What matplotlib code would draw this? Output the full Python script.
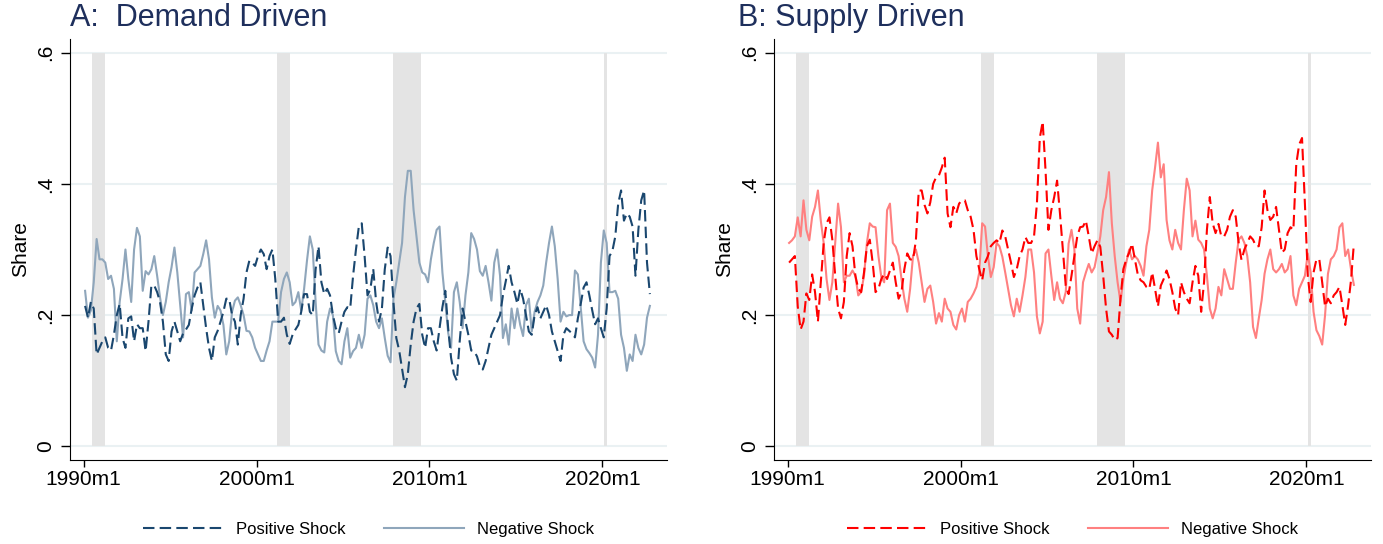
import numpy as np
import matplotlib
matplotlib.use('Agg')
from matplotlib import pyplot as plt

plt.rcParams['font.family'] = ['Liberation Sans', 'DejaVu Sans']

# shares, read every second month starting 1990m2
pos_a = [.214, .196, .22, .21, .14, .15, .16, .166, .15, .146,
         .17, .20, .217, .165, .15, .195, .198, .16, .186, .18,
         .18, .145, .19, .245, .245, .235, .22, .19, .14, .13,
         .175, .19, .175, .16, .172, .178, .185, .21, .23, .242,
         .25, .215, .18, .15, .13, .166, .176, .19, .205, .225,
         .225, .20, .19, .155, .20, .225, .265, .283, .28, .275,
         .29, .30, .293, .27, .29, .30,
         .255, .19, .19, .196, .17, .156, .17, .178, .185, .205,
         .232, .232, .205, .20, .27, .305, .25, .232, .24, .23,
         .20, .18, .172, .19, .205, .212, .21, .26, .30, .335,
         .34, .29, .23, .24, .27, .22, .19, .21, .27, .303,
         .29, .22, .165, .146, .118, .09, .11, .155, .19, .21,
         .217, .17, .15, .18, .18, .16, .146, .18, .212, .237,
         .18, .135, .11, .10, .16, .21, .19, .17,
         .146, .145, .137, .122, .117, .13, .15, .17, .18, .19,
         .20, .23, .252, .275, .25, .235, .217, .24, .225, .20,
         .175, .17, .20, .212, .195, .205, .215, .20, .175, .16,
         .145, .13, .17, .18, .176, .172, .166, .195, .217, .242,
         .25, .23, .207, .186, .195, .18, .166, .21, .29, .298,
         .32, .37, .39, .344, .355, .35, .335, .26, .33, .375,
         .39, .28, .232]

neg_a = [.237, .196, .207, .25, .316, .285, .285, .28, .255, .26,
         .24, .16, .22, .255, .30, .255, .22, .30, .333, .32,
         .237, .267, .262, .27, .29, .26, .227, .20, .22, .25,
         .273, .303, .265, .215, .166, .232, .235, .207, .265, .27,
         .275, .293, .314, .285, .227, .196, .214, .207, .185, .14,
         .16, .205, .222, .227, .215, .20, .176, .175, .166, .15,
         .14, .13, .13, .146, .16, .19,
         .19, .19, .235, .255, .265, .25, .215, .22, .235, .207,
         .24, .283, .32, .30, .22, .155, .146, .143, .19, .21,
         .20, .145, .13, .125, .16, .18, .135, .145, .15, .17,
         .15, .17, .225, .23, .215, .19, .18, .195, .165, .138,
         .128, .225, .25, .28, .31, .38, .42, .42, .36, .32,
         .28, .265, .262, .25, .285, .31, .33, .335, .265, .22,
         .173, .15, .235, .25, .22, .18, .23, .265,
         .325, .316, .30, .267, .26, .275, .25, .222, .28, .30,
         .26, .165, .186, .155, .21, .18, .21, .185, .168, .215,
         .225, .175, .205, .22, .23, .245, .28, .31, .335, .305,
         .255, .19, .205, .198, .20, .20, .268, .262, .212, .16,
         .148, .142, .135, .12, .17, .28, .329, .31, .235, .235,
         .237, .225, .17, .15, .115, .14, .13, .17, .15, .14,
         .155, .196, .214]

pos_b = [.28, .285, .29, .213, .178, .19, .233, .223, .262, .235,
         .19, .25, .31, .34, .349, .315, .26, .21, .195, .22,
         .29, .325, .305, .26, .24, .235, .265, .305, .315, .28,
         .235, .24, .255, .263, .255, .268, .28, .25, .225, .235,
         .27, .294, .285, .284, .314, .39, .39, .368, .355, .372,
         .40, .41, .413, .425, .44, .355, .334, .365, .355, .37,
         .375, .375, .36, .35, .33, .29, .27,
         .253, .28, .29, .305, .31, .314, .31, .329, .32, .30,
         .28, .258, .27, .29, .30, .319, .31, .31, .32, .37,
         .47, .495, .42, .33, .36, .38, .405, .355, .30, .245,
         .232, .26, .29, .32, .334, .335, .344, .32, .294, .305,
         .314, .304, .26, .21, .175, .17, .162, .165, .225, .27,
         .285, .295, .309, .285, .262, .253, .25, .243, .24, .265,
         .24, .213, .245, .255, .268, .255, .235,
         .21, .20, .25, .235, .225, .218, .25, .275, .26, .205,
         .25, .33, .38, .34, .325, .339, .32, .32, .33, .35,
         .36, .35, .31, .284, .30, .31, .32, .315, .305, .305,
         .334, .39, .36, .345, .35, .365, .33, .295, .30, .325,
         .334, .33, .43, .46, .47, .37, .26, .22, .265, .285,
         .285, .25, .213, .225, .218, .23, .235, .243, .215, .185,
         .215, .253, .309]

neg_b = [.31, .314, .32, .349, .32, .375, .33, .314, .35, .365,
         .39, .344, .31, .255, .223, .25, .31, .37, .334, .25,
         .26, .26, .268, .26, .23, .235, .26, .31, .34, .335,
         .334, .29, .258, .25, .36, .37, .31, .304, .29, .255,
         .225, .205, .24, .29, .30, .28, .25, .22, .24, .245,
         .22, .187, .203, .19, .225, .21, .205, .185, .178, .20,
         .21, .19, .22, .225, .233, .243, .265,
         .34, .335, .29, .258, .273, .31, .305, .289, .265, .24,
         .215, .198, .225, .205, .23, .258, .30, .30, .265, .198,
         .172, .19, .294, .30, .26, .223, .25, .225, .218, .235,
         .309, .33, .30, .21, .187, .25, .265, .278, .265, .273,
         .295, .32, .36, .38, .418, .34, .29, .25, .22, .255,
         .28, .30, .285, .29, .285, .275, .26, .305, .33, .39,
         .425, .463, .41, .43, .345, .314, .30,
         .33, .31, .30, .36, .408, .39, .32, .344, .315, .31,
         .30, .26, .21, .195, .21, .243, .23, .27, .255, .24,
         .24, .28, .315, .32, .31, .29, .25, .182, .165, .195,
         .223, .263, .285, .30, .27, .265, .27, .278, .265, .27,
         .29, .23, .215, .24, .25, .26, .294, .265, .205, .177,
         .168, .155, .20, .263, .285, .29, .30, .334, .34, .29,
         .30, .27, .246]

# recession periods (year, month) start / end
rec_start = [(1990, 7), (2001, 3), (2007, 12), (2020, 2)]
rec_end = [(1991, 4), (2001, 12), (2009, 7), (2020, 4)]

xticks = [1990, 2000, 2010, 2020]
xlabels = ['1990m1', '2000m1', '2010m1', '2020m1']
yticks = [0, .2, .4, .6]
ylabels = ['0', '.2', '.4', '.6']


def ym(y, m):
    return y + (m - 1) / 12.0


t = 1990 + (1 + 2 * np.arange(len(pos_a))) / 12.0

fig = plt.figure(figsize=(13.83, 5.44), dpi=100)
ax1 = fig.add_axes([70/1383, 84/544, 597/1383, 421/544])
ax2 = fig.add_axes([774/1383, 84/544, 597/1383, 421/544])


def panel(ax, pos, neg, cpos, cneg, title, tx):
    for s, e in zip(rec_start, rec_end):
        ax.fill_between([ym(*s), ym(*e)], 0, 0.6, color='#e4e4e4', lw=0, zorder=1)
    for yv in yticks:
        ax.axhline(yv, color='#eaf1f3', lw=1.5, zorder=0.5)
    l2, = ax.plot(t, neg, color=cneg, lw=1.5, zorder=3)
    l1, = ax.plot(t, pos, color=cpos, lw=1.5, ls=(0, (5.5, 2.5)), zorder=4)
    ax.set_xlim(1989.21, 2023.74)
    ax.set_ylim(-0.021, 0.621)
    ax.set_xticks(xticks)
    ax.set_xticklabels(xlabels, fontsize=15)
    ax.set_yticks(yticks)
    ax.set_yticklabels(ylabels, fontsize=15, rotation=90, va='center')
    ax.tick_params(axis='x', length=5, width=1, pad=2)
    ax.tick_params(axis='y', length=6.5, width=1, pad=4)
    ax.spines['top'].set_visible(False)
    ax.spines['right'].set_visible(False)
    ax.set_ylabel('Share', fontsize=15)
    ax.yaxis.set_label_coords(-0.067, 0.5)
    ax.set_title(title, loc='left', fontsize=22, color='#1e2f5c', pad=9.4, x=tx)
    ax.legend([l1, l2], ['Positive Shock', 'Negative Shock'], loc='center',
              bbox_to_anchor=(0.5, -0.164), ncol=2, frameon=False, fontsize=12,
              handlelength=4.8, handletextpad=0.8, columnspacing=2.3)


panel(ax1, pos_a, neg_a, '#1a476f', '#8fa6bb', 'A:  Demand Driven', 0.0)
panel(ax2, pos_b, neg_b, '#ff0000', '#ff8080', 'B: Supply Driven', -0.06)

plt.savefig('out.png', dpi=100)
